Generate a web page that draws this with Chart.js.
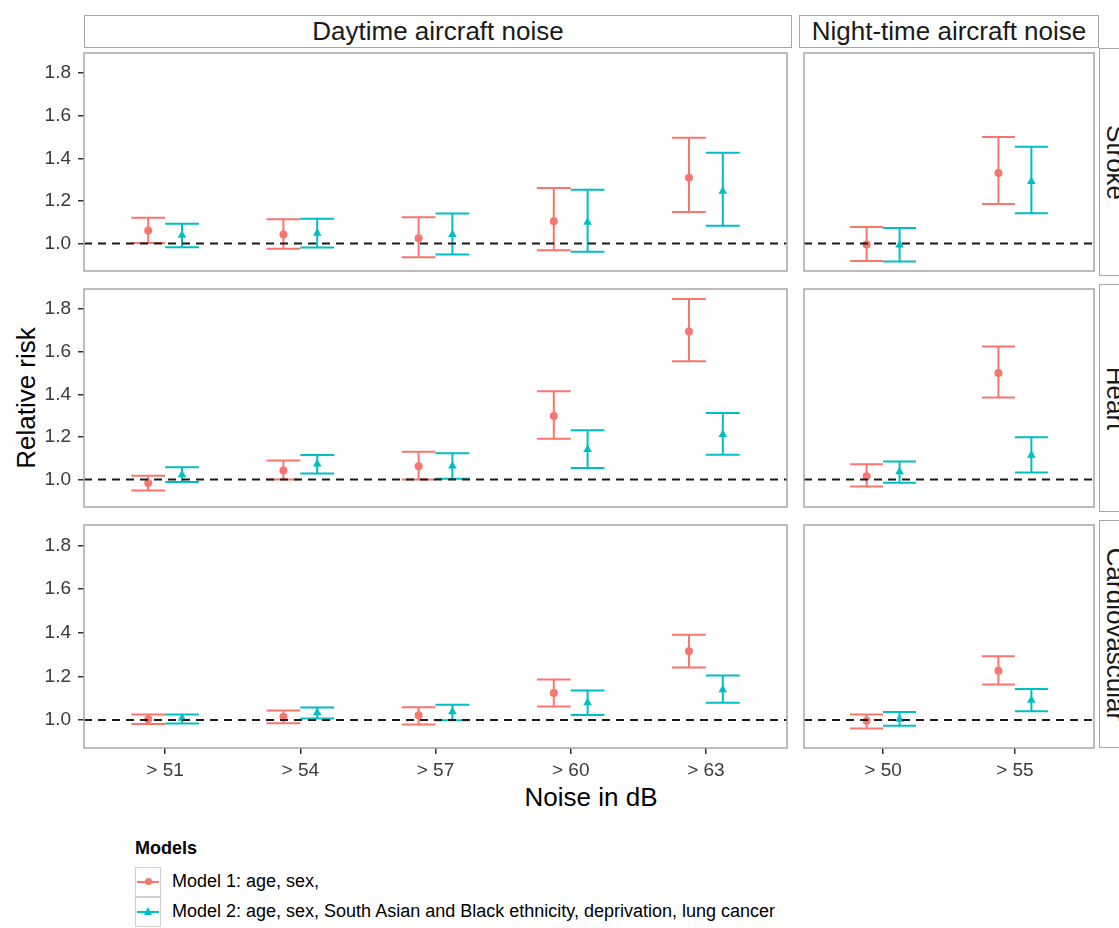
<!DOCTYPE html>
<html>
<head>
<meta charset="utf-8">
<script src="https://cdn.jsdelivr.net/npm/chart.js@4.4.0/dist/chart.umd.min.js"></script>
<style>
  html, body { margin: 0; padding: 0; background: #fff; }
  body { width: 1119px; height: 928px; overflow: hidden; position: relative; font-family: "Liberation Sans", Arial, sans-serif; color: #000; }
  .panel { position: absolute; }
  .strip { position: absolute; box-sizing: border-box; border: 1.5px solid #a6a6a6; background: #fff; font-size: 26px; color: #1a1a1a; display: flex; align-items: center; justify-content: center; overflow: hidden; white-space: nowrap; }
  .strip.side span { display: inline-block; transform: rotate(90deg); }
  .title { position: absolute; font-size: 26px; white-space: nowrap; }
  .legend-title { position: absolute; left: 135px; top: 838px; font-size: 18px; font-weight: bold; }
  .key { position: absolute; left: 135px; width: 26px; height: 30px; box-sizing: border-box; border: 1px solid #d0d0d0; }
  .key .ln { position: absolute; left: 1px; right: 1px; top: 13px; height: 2px; }
  .key .dot { position: absolute; left: 9px; top: 10px; width: 7px; height: 7px; border-radius: 50%; }
  .key .tri { position: absolute; left: 8px; top: 9px; width: 0; height: 0; border-left: 4.5px solid transparent; border-right: 4.5px solid transparent; border-bottom: 8px solid #00BFC4; }
  .key-text { position: absolute; left: 172px; font-size: 18px; white-space: nowrap; }
</style>
</head>
<body>

<div class="strip" style="left:84px;top:15px;width:708px;height:33px;">Daytime aircraft noise</div>
<div class="strip" style="left:799px;top:15px;width:300px;height:33px;">Night-time aircraft noise</div>

<div class="title" style="left:26px;top:398px;transform:translate(-50%,-50%) rotate(-90deg);">Relative risk</div>
<div class="title" style="left:591px;top:797px;transform:translate(-50%,-50%);">Noise in dB</div>

<div class="legend-title">Models</div>
<div class="key" style="top:867px;"><div class="ln" style="background:#F8766D"></div><div class="dot" style="background:#F8766D"></div></div>
<div class="key" style="top:897px;"><div class="ln" style="background:#00BFC4"></div><div class="tri"></div></div>
<div class="key-text" style="top:871px;">Model 1: age, sex,</div>
<div class="key-text" style="top:901px;">Model 2: age, sex, South Asian and Black ethnicity, deprivation, lung cancer</div>

<script>
const dayLabels = ['> 51', '> 54', '> 57', '> 60', '> 63'];
const nightLabels = ['> 50', '> 55'];
const outcomes = ['Stroke', 'Heart', 'Cardiovascular'];
const modelNames = ['Model 1: age, sex,', 'Model 2: age, sex, South Asian and Black ethnicity, deprivation, lung cancer'];
const yTicks = [1.0, 1.2, 1.4, 1.6, 1.8];

// rows: Stroke, Heart, Cardiovascular
const m1DayEst  = [[1.061, 1.042, 1.025, 1.105, 1.309], [0.984, 1.043, 1.063, 1.298, 1.695], [1.003, 1.015, 1.021, 1.123, 1.315]];
const m1DayLow  = [[1.003, 0.976, 0.936, 0.969, 1.148], [0.948, 1.000, 1.000, 1.192, 1.556], [0.981, 0.985, 0.979, 1.061, 1.241]];
const m1DayHigh = [[1.121, 1.114, 1.123, 1.261, 1.497], [1.018, 1.090, 1.130, 1.415, 1.848], [1.025, 1.043, 1.058, 1.186, 1.391]];

const m2DayEst  = [[1.039, 1.048, 1.042, 1.100, 1.246], [1.022, 1.073, 1.064, 1.141, 1.211], [1.008, 1.033, 1.037, 1.079, 1.139]];
const m2DayLow  = [[0.982, 0.981, 0.949, 0.961, 1.084], [0.988, 1.028, 1.004, 1.054, 1.117], [0.984, 1.006, 0.999, 1.022, 1.079]];
const m2DayHigh = [[1.093, 1.117, 1.141, 1.253, 1.427], [1.058, 1.115, 1.124, 1.232, 1.312], [1.025, 1.057, 1.070, 1.135, 1.204]];

const m1NightEst  = [[0.996, 1.331], [1.016, 1.500], [0.996, 1.226]];
const m1NightLow  = [[0.918, 1.186], [0.967, 1.385], [0.961, 1.163]];
const m1NightHigh = [[1.078, 1.500], [1.072, 1.625], [1.025, 1.292]];

const m2NightEst  = [[0.993, 1.291], [1.036, 1.114], [1.003, 1.090]];
const m2NightLow  = [[0.916, 1.142], [0.985, 1.033], [0.973, 1.040]];
const m2NightHigh = [[1.073, 1.455], [1.085, 1.199], [1.036, 1.142]];

const colours = ['#F8766D', '#00BFC4'];
const dodge = 0.125;
const capHalf = 0.125;
const yMin = 0.871, yMax = 1.895;
const panelTop = [48, 284, 520];
const panelH = 228;
const font = '"Liberation Sans", Arial, sans-serif';

const errorBars = {
  id: 'errorBars',
  beforeDatasetsDraw(chart) {
    const { ctx, scales: { x, y } } = chart;
    ctx.save();
    ctx.lineWidth = 2;
    chart.data.datasets.forEach(ds => {
      ctx.strokeStyle = ds.borderColor;
      ds.data.forEach(p => {
        const px = x.getPixelForValue(p.x);
        const x0 = x.getPixelForValue(p.x - capHalf);
        const x1 = x.getPixelForValue(p.x + capHalf);
        const yl = y.getPixelForValue(p.lo);
        const yh = y.getPixelForValue(p.hi);
        ctx.beginPath();
        ctx.moveTo(px, yl); ctx.lineTo(px, yh);
        ctx.moveTo(x0, yl); ctx.lineTo(x1, yl);
        ctx.moveTo(x0, yh); ctx.lineTo(x1, yh);
        ctx.stroke();
      });
    });
    ctx.restore();
  },
  afterDatasetsDraw(chart) {
    const { ctx, chartArea: a, scales: { y } } = chart;
    const yy = y.getPixelForValue(1);
    ctx.save();
    ctx.strokeStyle = '#1a1a1a';
    ctx.lineWidth = 2;
    ctx.setLineDash([8, 6]);
    ctx.beginPath();
    ctx.moveTo(a.left, yy); ctx.lineTo(a.right, yy);
    ctx.stroke();
    ctx.restore();
  },
  afterDraw(chart) {
    const { ctx, chartArea: a } = chart;
    ctx.save();
    ctx.strokeStyle = '#a6a6a6';
    ctx.lineWidth = 1.5;
    ctx.strokeRect(a.left, a.top, a.right - a.left, a.bottom - a.top);
    ctx.restore();
  }
};

function points(est, lo, hi, row, shift) {
  return est[row].map((v, i) => ({ x: i + 1 + shift, y: v, lo: lo[row][i], hi: hi[row][i] }));
}

function makePanel(row, col) {
  const labels = col === 0 ? dayLabels : nightLabels;
  const sets = col === 0
    ? [[m1DayEst, m1DayLow, m1DayHigh], [m2DayEst, m2DayLow, m2DayHigh]]
    : [[m1NightEst, m1NightLow, m1NightHigh], [m2NightEst, m2NightLow, m2NightHigh]];
  const showX = row === 2;
  const showY = col === 0;
  const xSpace = showX ? 42 : 0;
  const ySpace = showY ? 84 : 0;

  const box = document.createElement('div');
  box.className = 'panel';
  box.style.left = (col === 0 ? 0 : 799) + 'px';
  box.style.width = (col === 0 ? 792 : 300) + 'px';
  box.style.top = panelTop[row] + 'px';
  box.style.height = (panelH + xSpace) + 'px';
  const cv = document.createElement('canvas');
  box.appendChild(cv);
  document.body.appendChild(box);

  new Chart(cv, {
    type: 'scatter',
    data: {
      datasets: sets.map((s, k) => ({
        label: modelNames[k],
        data: points(s[0], s[1], s[2], row, k === 0 ? -dodge : dodge),
        borderColor: colours[k],
        backgroundColor: colours[k],
        pointStyle: k === 0 ? 'circle' : 'triangle',
        pointRadius: k === 0 ? 4 : 5,
        pointBorderWidth: 0
      }))
    },
    options: {
      responsive: true, maintainAspectRatio: false, animation: false,
      layout: { padding: 0 },
      plugins: { legend: { display: false }, tooltip: { enabled: false } },
      scales: {
        x: {
          type: 'linear', min: 0.4, max: labels.length + 0.6, display: showX,
          afterBuildTicks: s => { s.ticks = labels.map((l, i) => ({ value: i + 1 })); },
          afterFit: s => { s.height = xSpace; s.paddingLeft = 0; s.paddingRight = 0; },
          ticks: { callback: v => labels[Math.round(v) - 1], color: '#3a3a3a', font: { size: 19, family: font }, padding: 5, maxRotation: 0, autoSkip: false },
          grid: { drawOnChartArea: false, drawTicks: true, tickLength: 6, tickColor: '#333', lineWidth: 1.5 },
          border: { display: false }
        },
        y: {
          min: yMin, max: yMax, display: showY,
          afterBuildTicks: s => { s.ticks = yTicks.map(v => ({ value: v })); },
          afterFit: s => { s.width = ySpace; s.paddingTop = 0; s.paddingBottom = 0; },
          ticks: { callback: v => v.toFixed(1), color: '#3a3a3a', font: { size: 19, family: font }, padding: 7 },
          grid: { drawOnChartArea: false, drawTicks: true, tickLength: 6, tickColor: '#333', lineWidth: 1.5 },
          border: { display: false }
        }
      }
    },
    plugins: [errorBars]
  });
}

for (let r = 0; r < 3; r++) {
  for (let c = 0; c < 2; c++) makePanel(r, c);
  const s = document.createElement('div');
  s.className = 'strip side';
  s.style.left = '1099px';
  s.style.top = panelTop[r] + 'px';
  s.style.width = '33px';
  s.style.height = panelH + 'px';
  s.innerHTML = '<span>' + outcomes[r] + '</span>';
  document.body.appendChild(s);
}
</script>
</body>
</html>
